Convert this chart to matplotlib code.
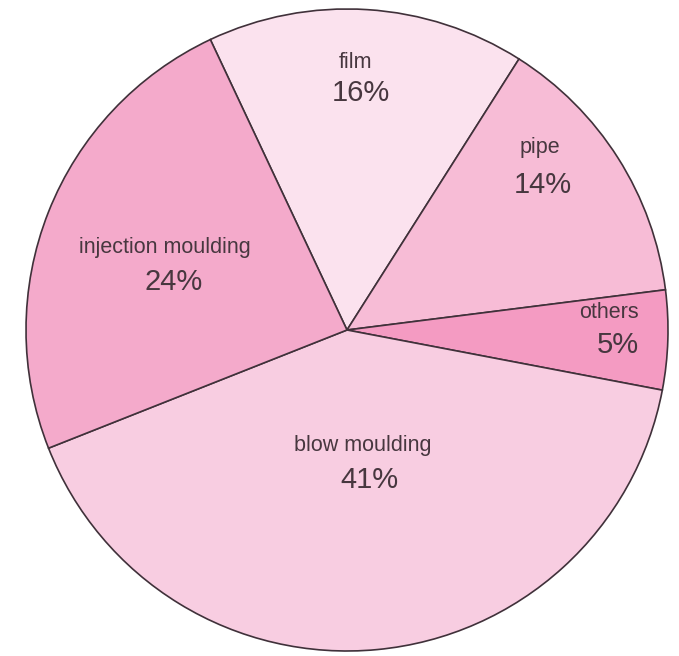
import matplotlib.pyplot as plt

# Share of each application, clockwise from the top slice
labels = ["film", "pipe", "others", "blow moulding", "injection moulding"]
shares = [16, 14, 5, 41, 24]
colors = ["#fbe2ee", "#f7bcd6", "#f49bc2", "#f8cde1", "#f4aacb"]

# label / percentage anchor points (pixel positions, converted below)
label_px = [(355, 62), (540, 148), (609, 313), (363, 445), (165, 248)]
pct_px = [(361, 93), (543, 185), (618, 345), (369, 480), (174, 282)]

W, H = 679, 656
cx, cy, R = 347, 330, 321

plt.rcParams["font.family"] = ["Liberation Sans", "DejaVu Sans"]

fig = plt.figure(figsize=(W / 100, H / 100), dpi=100)
ax = fig.add_axes([0, 0, 1, 1])

ax.pie(shares, colors=colors, startangle=115.2, counterclock=False,
       wedgeprops=dict(edgecolor="#40313a", linewidth=1.2))

ax.set_aspect("auto")
ax.set_xlim(-cx / R, (W - cx) / R)
ax.set_ylim(-(H - cy) / R, cy / R)
ax.axis("off")


def to_data(p):
    return (p[0] - cx) / R, (cy - p[1]) / R


txt_color = "#47373f"
for lab, pct, lp, pp in zip(labels, shares, label_px, pct_px):
    x, y = to_data(lp)
    ax.text(x, y, lab, ha="center", va="center", fontsize=15.5,
            color=txt_color)
    x, y = to_data(pp)
    ax.text(x, y, f"{pct}%", ha="center", va="center", fontsize=21,
            color=txt_color)

fig.savefig("out.png", dpi=100)
